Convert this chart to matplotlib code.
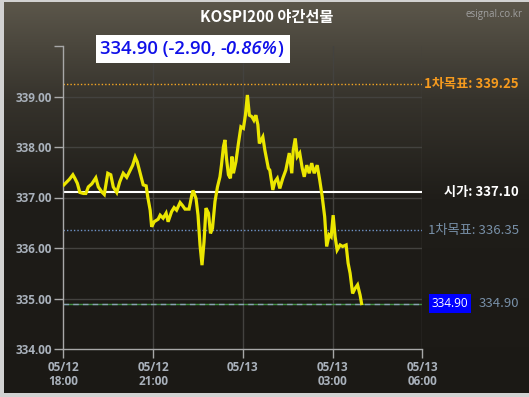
import numpy as np
import matplotlib
matplotlib.use("Agg")
import matplotlib.pyplot as plt
from matplotlib.patches import Rectangle
from matplotlib.transforms import blended_transform_factory

plt.rcParams['font.family'] = ['Noto Sans CJK KR', 'DejaVu Sans']

# ---- data (minutes since 05/12 18:00, price) ----
minutes = [1, 7, 12, 19, 23, 28, 33, 40, 45, 50, 57, 65, 70, 77, 82, 89, 95, 100, 107, 113,
           120, 127, 134, 139, 144, 148, 154, 160, 166, 169, 174, 177, 182, 190, 194, 200, 206,
           210, 217, 222, 227, 234, 239, 244, 252, 257, 260, 266, 270, 274, 278, 282, 286, 291,
           295, 299, 304, 309, 314, 317, 321, 324, 327, 331, 335, 338, 341, 346, 351, 356, 361,
           365, 369, 373, 378, 382, 386, 390, 393, 400, 404, 411, 414, 420, 424, 429, 434, 440,
           446, 453, 458, 461, 465, 469, 474, 479, 483, 488, 493, 498, 503, 509, 514, 519, 524,
           528, 533, 537, 541, 545, 549, 555, 560, 567, 571, 575, 580, 585, 590, 595, 598]
prices = [337.25, 337.31, 337.36, 337.45, 337.38, 337.28, 337.10, 337.08, 337.08, 337.21,
          337.27, 337.39, 337.21, 337.11, 337.06, 337.48, 337.45, 337.21, 337.10, 337.31,
          337.48, 337.40, 337.54, 337.64, 337.80, 337.71, 337.48, 337.25, 337.23, 337.02,
          336.75, 336.42, 336.52, 336.57, 336.65, 336.59, 336.69, 336.52, 336.72, 336.80,
          336.75, 336.90, 336.84, 336.77, 336.77, 337.02, 337.14, 336.98, 336.65, 336.06,
          335.66, 336.12, 336.79, 336.69, 336.29, 336.39, 336.92, 337.21, 337.41, 337.64,
          338.01, 338.14, 337.78, 337.45, 337.38, 337.81, 337.48, 337.71, 338.07, 338.40,
          338.37, 338.63, 339.03, 338.63, 338.60, 338.53, 338.63, 338.44, 338.07, 338.20,
          337.94, 337.58, 337.54, 337.15, 337.31, 337.38, 337.18, 337.38, 337.54, 337.88,
          337.48, 337.94, 338.17, 337.81, 337.88, 337.58, 337.41, 337.64, 337.48, 337.68,
          337.48, 337.64, 337.35, 337.02, 336.62, 336.03, 336.26, 336.22, 336.65, 336.22,
          335.96, 336.06, 336.03, 336.06, 335.70, 335.50, 335.10, 335.20, 335.27, 335.07, 334.90]

title = "KOSPI200 야간선물"
current = 334.90
change = -2.90
change_pct = -0.86
open_price = 337.10
target_up = 339.25
target_dn = 336.35

x_ticks = [0, 180, 360, 540, 720]
x_labels = ["05/12\n18:00", "05/12\n21:00", "05/13\n", "05/13\n03:00", "05/13\n06:00"]
y_ticks = [334, 335, 336, 337, 338, 339, 340]
y_labels = ["334.00", "335.00", "336.00", "337.00", "338.00", "339.00", ""]

W, H = 529, 397
fig = plt.figure(figsize=(W / 100, H / 100), dpi=100)

# background gradient
bg = fig.add_axes([0, 0, 1, 1], zorder=-10)
bg.axis('off')
ys = np.linspace(0, 1, 400)
stops_y = [0.0, 0.25, 0.5, 1.0]
stops_c = np.array([[92, 87, 75], [54, 51, 44], [31, 29, 25], [27, 25, 21]]) / 255
grad = np.stack([np.interp(ys, stops_y, stops_c[:, i]) for i in range(3)], axis=-1)
bg.imshow(grad[:, None, :], aspect='auto', extent=[0, 1, 0, 1], origin='upper')
bg.set_xlim(0, 1); bg.set_ylim(0, 1)

# border (left, top, bottom)
bc = '#d2d2d2'
fig.patches.append(Rectangle((0, 0), 4 / W, 1, transform=fig.transFigure, fc=bc, ec='none'))
fig.patches.append(Rectangle((0, 1 - 2 / H), 1, 2 / H, transform=fig.transFigure, fc=bc, ec='none'))
fig.patches.append(Rectangle((0, 0), 1, 4 / H, transform=fig.transFigure, fc=bc, ec='none'))

ax = fig.add_axes([63.4 / W, (H - 349) / H, (422.4 - 63.4) / W, (349 - 46) / H])
ax.set_facecolor('none')
ax.set_xlim(0, 720)
ax.set_ylim(334, 340)

for s in ['top', 'right']:
    ax.spines[s].set_visible(False)
for s in ['left', 'bottom']:
    ax.spines[s].set_color('#a8a8a8')
    ax.spines[s].set_linewidth(1)

tick_col = '#a9b1bb'
lat = ['Open Sans', 'DejaVu Sans']
ax.set_xticks(x_ticks)
ax.set_xticklabels(x_labels, fontsize=8.5, fontweight='bold', color=tick_col,
                   family=lat, linespacing=1.15)
ax.set_yticks(y_ticks)
ax.set_yticklabels(y_labels, fontsize=8.5, fontweight='bold', color=tick_col, family=lat)
ax.tick_params(axis='both', colors='#a8a8a8', length=6.5, width=1)
ax.tick_params(axis='y', pad=2)
ax.tick_params(axis='x', pad=2)
for lab in ax.get_xticklabels() + ax.get_yticklabels():
    lab.set_color(tick_col)

# grid
for yv in y_ticks[1:-1]:
    ax.axhline(yv, color='#43423f', lw=1, zorder=1)
for xv in x_ticks[1:]:
    ax.axvline(xv, color='#43423f', lw=1, zorder=1)

# reference lines
ax.axhline(target_up, color='#f5a623', lw=1, ls=(0, (1, 1.5)), zorder=2)
ax.axhline(open_price, color='white', lw=1.5, zorder=2)
ax.axhline(target_dn, color='#6f93c8', lw=1, ls=(0, (1, 1.5)), zorder=2)
ax.axhline(current, color='#3f8f3f', lw=1, zorder=2)
ax.axhline(current, color='#8aa0b4', lw=1, ls=(0, (4, 3)), zorder=2)

# price line
ax.plot(minutes, prices, color='#ebe600', lw=2.3, zorder=5, solid_joinstyle='miter')

# right labels
tr = blended_transform_factory(fig.transFigure, ax.transData)
xr = 519 / W
ax.text(xr, target_up, f"1차목표: {target_up:.2f}", transform=tr, ha='right', va='center',
        fontsize=9.5, fontweight='bold', color='#f59a1e', clip_on=False)
ax.text(xr, open_price, f"시가: {open_price:.2f}", transform=tr, ha='right', va='center',
        fontsize=9.5, fontweight='bold', color='white', clip_on=False)
ax.text(xr, target_dn, f"1차목표: {target_dn:.2f}", transform=tr, ha='right', va='center',
        fontsize=9.5, color='#7890a8', clip_on=False)
ax.text(xr, current, f"{current:.2f}", transform=tr, ha='right', va='center',
        fontsize=9.5, color='#7890a8', clip_on=False)
ax.text(450 / W, current, f"{current:.2f}", transform=tr, ha='center', va='center',
        fontsize=8.5, color='white', clip_on=False, family=lat,
        bbox=dict(boxstyle='square,pad=0.25', fc='#0000ff', ec='none'))

# title and source
fig.text(267 / W, 1 - 17 / H, title, ha='center', va='center', fontsize=11,
         fontweight='bold', color='white')
fig.text(522 / W, 1 - 14 / H, "esignal.co.kr", ha='right', va='center', fontsize=7,
         color='#a0a0a0', family=lat)

# value box
fig.patches.append(Rectangle((96 / W, 1 - 63 / H), (290 - 96) / W, 28 / H,
                             transform=fig.transFigure, fc='white', ec='none', zorder=3))
blue = '#1010e8'
fs = 13.3
t1 = fig.text(100 / W, 1 - 49 / H, f"{current:.2f} ({change:.2f}, ", ha='left', va='center',
              fontsize=fs, color=blue, family=lat, fontweight='semibold', zorder=4)
t2 = fig.text(0, 0, f"{change_pct:.2f}%", fontsize=fs, color=blue, family=lat,
              fontweight='semibold', style='italic', zorder=4)
t3 = fig.text(0, 0, ")", fontsize=fs, color=blue, family=lat, fontweight='semibold', zorder=4)
fig.canvas.draw()
r = fig.canvas.get_renderer()
bb1 = t1.get_window_extent(r)
t2.set_position((bb1.x1 / W, (bb1.y0) / H))
t2.set_va('bottom')
fig.canvas.draw()
bb2 = t2.get_window_extent(r)
t3.set_position((bb2.x1 / W, bb1.y0 / H))
t3.set_va('bottom')

fig.savefig('out.png', dpi=100)
